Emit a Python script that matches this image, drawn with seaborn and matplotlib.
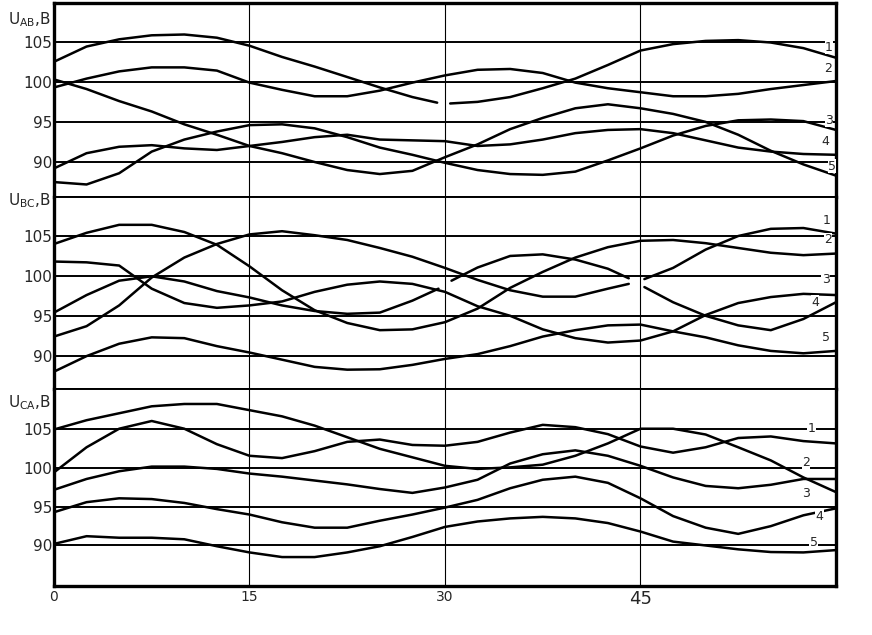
import pandas as pd
import seaborn as sns
import matplotlib.pyplot as plt

# time, min (every 2.5)
t = [0, 2.5, 5, 7.5, 10, 12.5, 15, 17.5, 20, 22.5, 25, 27.5, 30,
     32.5, 35, 37.5, 40, 42.5, 45, 47.5, 50, 52.5, 55, 57.5, 60]

# U_AB, V  (None = gap in the hand-drawn line)
ab_1 = [102.5, 104.4, 105.3, 105.8, 105.9, 105.5, 104.5, 103.1, 101.9, 100.6, 99.3, 98.1, None,
        97.5, 98.1, 99.2, 100.4, 102.1, 103.9, 104.7, 105.1, 105.2, 104.9, 104.2, 103.0]
ab_2 = [99.3, 100.4, 101.3, 101.8, 101.8, 101.4, 99.9, 99.0, 98.2, 98.2, 98.9, 99.9, 100.8,
        101.5, 101.6, 101.1, 99.9, 99.2, 98.7, 98.2, 98.2, 98.5, 99.1, 99.6, 100.1]
ab_3 = [87.5, 87.2, 88.6, 91.3, 92.8, 93.8, 94.6, 94.7, 94.2, 93.1, 91.8, 90.9, 89.9,
        89.0, 88.5, 88.4, 88.8, 90.2, 91.7, 93.3, 94.5, 95.2, 95.3, 95.1, 94.0]
ab_4 = [89.2, 91.1, 91.9, 92.1, 91.7, 91.5, 92.0, 92.5, 93.1, 93.4, 92.8, 92.7, 92.6,
        92.0, 92.2, 92.8, 93.6, 94.0, 94.1, 93.6, 92.7, 91.8, 91.3, 91.0, 90.9]
ab_5 = [100.3, 99.1, 97.6, 96.3, 94.7, 93.4, 92.0, 91.1, 90.0, 89.0, 88.5, 88.9, 90.6,
        92.2, 94.1, 95.5, 96.7, 97.2, 96.7, 96.0, 95.0, 93.4, 91.4, 89.7, 88.3]

# U_BC, V
bc_1 = [92.4, 93.7, 96.3, 99.8, 102.3, 104.0, 105.2, 105.6, 105.1, 104.5, 103.5, 102.4, 101.0,
        99.5, 98.2, 97.4, 97.4, 98.4, None, 101.0, 103.3, 105.0, 105.9, 106.0, 105.3]
bc_2 = [104.0, 105.4, 106.4, 106.4, 105.5, 103.9, 101.2, 98.2, 95.7, 94.1, 93.2, 93.3, 94.2,
        95.9, 98.5, 100.5, 102.3, 103.6, 104.4, 104.5, 104.1, 103.5, 102.9, 102.6, 102.8]
bc_3 = [101.8, 101.7, 101.3, 98.4, 96.6, 96.0, 96.3, 96.8, 98.0, 98.9, 99.3, 99.0, 98.0,
        96.2, 95.0, 93.3, 92.2, 91.65, 91.9, 93.05, 95.1, 96.6, 97.35, 97.75, 97.6]
bc_4 = [95.4, 97.6, 99.4, 99.95, 99.3, 98.1, 97.3, 96.3, 95.6, 95.25, 95.4, 96.9, None,
        101.05, 102.5, 102.7, 102.05, 100.9, None, 96.7, 95.0, 93.8, 93.2, 94.6, 96.7]
bc_5 = [88.0, 89.95, 91.5, 92.3, 92.2, 91.2, 90.4, 89.5, 88.6, 88.25, 88.3, 88.85, 89.6,
        90.2, 91.2, 92.4, 93.2, 93.8, 93.9, 93.05, 92.3, 91.3, 90.6, 90.3, 90.6]

# U_CA, V
ca_1 = [99.45, 102.7, 105.1, 106.1, 105.1, 103.1, 101.6, 101.3, 102.2, 103.4, 103.7, 103.0, 102.9,
        103.4, 104.6, 105.6, 105.3, 104.4, 102.8, 102.0, 102.7, 103.9, 104.1, 103.5, 103.2]
ca_2 = [97.2, 98.6, 99.6, 100.2, 100.2, 99.9, 99.3, 98.9, 98.4, 97.9, 97.3, 96.8, 97.5,
        98.5, 100.6, 101.8, 102.3, 101.6, 100.3, 98.8, 97.7, 97.4, 97.85, 98.6, 98.6]
ca_3 = [105.0, 106.2, 107.1, 108.0, 108.3, 108.3, 107.5, 106.7, 105.5, 104.0, 102.5, 101.4, 100.3,
        99.9, 100.1, 100.45, 101.6, 103.2, 105.1, 105.1, 104.35, 102.7, 101.0, 98.8, 96.9]
ca_4 = [94.3, 95.6, 96.1, 96.0, 95.5, 94.7, 94.0, 93.0, 92.3, 92.3, 93.2, 94.0, 94.9,
        95.9, 97.4, 98.5, 98.9, 98.1, 96.1, 93.8, 92.3, 91.5, 92.5, 93.9, 94.8]
ca_5 = [90.2, 91.2, 91.0, 91.0, 90.8, 89.9, 89.1, 88.5, 88.5, 89.1, 89.9, 91.1, 92.4,
        93.1, 93.5, 93.7, 93.5, 92.9, 91.8, 90.5, 90.0, 89.5, 89.15, 89.1, 89.4]

# ends of the gaps: panel, curve, t left, U left, t right, U right
breaks = [
    ("AB", 1, 29.4, 97.4, 30.4, 97.3),
    ("BC", 4, 29.5, 98.4, 30.5, 99.4),
    ("BC", 1, 44.1, 99.0, 45.3, 99.6),
    ("BC", 4, 44.1, 99.7, 45.3, 98.6),
]

panels = ["AB", "BC", "CA"]
curves = {"AB": [ab_1, ab_2, ab_3, ab_4, ab_5],
          "BC": [bc_1, bc_2, bc_3, bc_4, bc_5],
          "CA": [ca_1, ca_2, ca_3, ca_4, ca_5]}
grid_v = [90, 95, 100, 105]
grid_t = [15, 30, 45]

# curve numbers at the right edge (t, U)
lab_pos = {"AB": [(59.45, 104.3), (59.4, 101.7), (59.45, 95.2), (59.2, 92.5), (59.7, 89.5)],
           "BC": [(59.3, 107.0), (59.4, 104.5), (59.2, 99.5), (58.4, 96.7), (59.2, 92.3)],
           "CA": [(58.1, 105.1), (57.7, 100.7), (57.7, 96.7), (58.75, 93.8), (58.3, 90.4)]}
ylims = {"AB": (85.64, 109.83), "BC": (85.83, 109.89), "CA": (84.76, 110.24)}
u_label_y = {"AB": 107.7, "BC": 109.4, "CA": 108.5}

rows = []
for p in panels:
    for k, vals in enumerate(curves[p], 1):
        pts = [(ti, v) for ti, v in zip(t, vals) if v is not None]
        cut = [(b[2], b[3], b[4], b[5]) for b in breaks if b[0] == p and b[1] == k]
        for tl, vl, tr, vr in cut:
            pts += [(tl, vl), (tr, vr)]
        pts.sort()
        seg = 0
        for i, (ti, v) in enumerate(pts):
            if i > 0 and any(pts[i - 1][0] <= tl and ti >= tr for tl, _, tr, _ in cut):
                seg += 1
            rows.append({"panel": p, "seg": f"{k}-{seg}", "t": ti, "U": v})
df = pd.DataFrame(rows)

sns.set_style("white")
plt.rcParams["font.family"] = ["DejaVu Sans"]

fig = plt.figure(figsize=(8.72, 6.35), dpi=100)
gs = fig.add_gridspec(3, 1, height_ratios=[194, 192, 197], hspace=0,
                      left=0.0619, right=0.9587, top=0.9953, bottom=0.0772)

for i, p in enumerate(panels):
    ax = fig.add_subplot(gs[i])
    for v in grid_v:
        ax.axhline(v, color="black", lw=1.4, zorder=1)
    for x in grid_t:
        ax.axvline(x, color="black", lw=0.8, zorder=1)
    sns.lineplot(data=df[df["panel"] == p], x="t", y="U", units="seg", estimator=None,
                 color="black", lw=1.8, legend=False, ax=ax, zorder=2,
                 solid_joinstyle="round", solid_capstyle="round")
    ax.set_xlim(0, 60)
    ax.set_ylim(*ylims[p])
    ax.set_yticks(grid_v)
    ax.set_yticklabels([str(v) for v in grid_v], fontsize=11)
    ax.tick_params(axis="both", length=0, pad=1.5)
    ax.set_xlabel("")
    ax.set_ylabel("")
    ax.text(-0.004, u_label_y[p], r"U$_{\mathregular{" + p + r"}}$,В",
            transform=ax.get_yaxis_transform(), ha="right", va="center", fontsize=11)
    for k, (lt, lv) in enumerate(lab_pos[p], 1):
        ax.text(lt, lv, str(k), ha="center", va="center", fontsize=9, zorder=3,
                bbox=dict(facecolor="white", edgecolor="none", pad=0.3))
    for side in ["left", "right", "top", "bottom"]:
        ax.spines[side].set_color("black")
        ax.spines[side].set_linewidth(2.4)
    if i > 0:
        ax.spines["top"].set_linewidth(1.4)
    if i < 2:
        ax.spines["bottom"].set_linewidth(1.4)
        ax.set_xticks([])
    else:
        ax.set_xticks([0, 15, 30, 45])
        ax.set_xticklabels(["0", "15", "30", "45"], fontsize=10)
        ax.get_xticklabels()[3].set_fontsize(13)
        ax.tick_params(axis="x", pad=3)

fig.savefig("out.png", dpi=100)
